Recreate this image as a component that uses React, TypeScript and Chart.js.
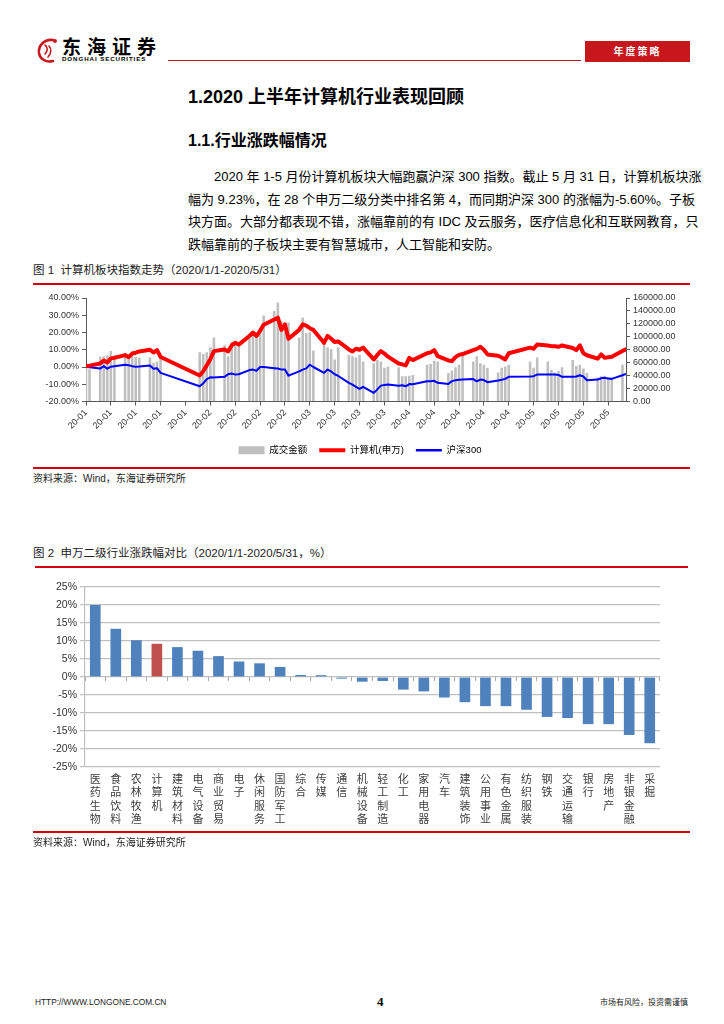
import React, { useEffect, useRef } from 'react';
import { Chart, registerables } from 'chart.js';

Chart.register(...registerables);

const FONT = "'Liberation Sans', 'Noto Sans CJK SC', sans-serif";

// ---------------- Figure 1 data ----------------
const TRADE_DATES = [
  '01-02', '01-03', '01-06', '01-07', '01-08', '01-09', '01-10', '01-13', '01-14', '01-15', '01-16', '01-17', '01-20', '01-21', '01-22', '01-23',
  '02-03', '02-04', '02-05', '02-06', '02-07', '02-10', '02-11', '02-12', '02-13', '02-14', '02-17', '02-18', '02-19', '02-20', '02-21', '02-24', '02-25', '02-26', '02-27', '02-28',
  '03-02', '03-03', '03-04', '03-05', '03-06', '03-09', '03-10', '03-11', '03-12', '03-13', '03-16', '03-17', '03-18', '03-19', '03-20', '03-23', '03-24', '03-25', '03-26', '03-27', '03-30', '03-31',
  '04-01', '04-02', '04-03', '04-07', '04-08', '04-09', '04-10', '04-13', '04-14', '04-15', '04-16', '04-17', '04-20', '04-21', '04-22', '04-23', '04-24', '04-27', '04-28', '04-29', '04-30',
  '05-06', '05-07', '05-08', '05-11', '05-12', '05-13', '05-14', '05-15', '05-18', '05-19', '05-20', '05-21', '05-22', '05-25', '05-26', '05-27', '05-28', '05-29',
  '06-01', '06-02',
];

const COMPUTER_PCT = [
  0.5, 0.8, 2.0, 3.8, 2.6, 5.0, 5.3, 6.9, 5.7, 7.8, 8.3, 9.0, 10.0, 8.4, 9.8, 5.8,
  -4.9, -2.5, 1.0, 4.5, 9.2, 10.2, 9.0, 12.5, 14.0, 13.0, 18.0, 20.0, 18.0, 21.0, 24.5, 27.5, 28.6, 21.5, 24.7, 16.4,
  21.5, 24.7, 24.0, 22.5, 21.5, 14.0, 18.0, 16.4, 14.5, 14.8, 10.2, 9.0, 10.6, 10.0, 11.2, 4.4, 7.0, 9.2, 7.8, 6.0, 2.0, 1.5,
  0.9, 5.3, 4.0, 8.0, 8.5, 9.8, 6.3, 3.8, 3.4, 5.7, 7.0, 7.5, 9.8, 10.5, 11.7, 10.0, 7.3, 6.5, 5.5, 4.4, 8.0,
  11.2, 10.6, 13.1, 12.5, 12.1, 12.0, 11.7, 12.5, 11.0, 9.8, 12.5, 8.0, 6.8, 4.8, 7.3, 5.3, 5.6, 5.9,
  9.3, 10.2,
];

const HS300_PCT = [
  0.0, -0.2, -0.9, 0.5, -1.0, 0.2, 0.5, 1.3, 1.0, 0.5, 0.2, 0.3, 0.9, -1.0, -0.7, -3.4,
  -11.2, -9.5, -7.0, -6.0, -6.1, -5.7, -4.2, -3.8, -4.4, -4.2, -1.8, -1.5, -2.2, 0.0, 0.0, -0.7, -0.9, -1.5, -1.5, -5.0,
  -2.5, -1.5, -0.8, 1.3, 0.0, -3.4, -1.5, -2.6, -4.2, -5.2, -9.2, -10.2, -11.5, -12.7, -11.5, -15.0, -13.0, -10.8, -10.5, -10.2, -10.8, -10.6,
  -11.2, -9.9, -10.0, -8.3, -8.3, -8.0, -9.2, -9.8, -8.2, -7.7, -7.4, -7.2, -7.0, -8.3, -7.3, -7.6, -8.8, -7.8, -7.4, -6.9, -5.7,
  -5.5, -5.3, -4.4, -4.4, -4.4, -4.4, -4.6, -5.7, -5.7, -5.5, -4.8, -5.5, -7.7, -7.3, -6.5, -6.3, -6.7, -6.9,
  -4.8, -4.0,
];

const TURNOVER = [
  55000, 50000, 69000, 70000, 71000, 78000, 72000, 70000, 73000, 70000, 69000, 68000, 68000, 60000, 62000, 71000,
  76000, 74000, 76000, 84000, 99000, 87000, 70000, 92000, 94000, 91000, 100000, 104000, 106000, 108000, 133000, 140000, 153000, 125000, 117000, 122000,
  99000, 130000, 106000, 107000, 79000, 89000, 84000, 81000, 65000, 84000, 72000, 70000, 68000, 72000, 62000, 59000, 64000, 62000, 52000, 54000, 53000, 39000,
  39000, 40000, 41000, 57000, 58000, 63000, 62000, 44000, 48000, 53000, 57000, 72000, 62000, 70000, 59000, 57000, 52000, 45000, 52000, 54000, 57000,
  62000, 52000, 68000, 62000, 49000, 45000, 47000, 53000, 64000, 55000, 57000, 51000, 44000, 37000, 39000, 40000, 38000, 38000,
  57000, null,
];

const X_TICK_LABELS = [
  '20-01', '20-01', '20-01', '20-01', '20-01',
  '20-02', '20-02', '20-02', '20-02',
  '20-03', '20-03', '20-03', '20-03',
  '20-04', '20-04', '20-04', '20-04', '20-04',
  '20-05', '20-05', '20-05', '20-05',
];

const SERIES_NAMES = ['成交金额', '计算机(申万)', '沪深300'];

// ---------------- Figure 2 data ----------------
const INDUSTRIES = [
  '医药生物', '食品饮料', '农林牧渔', '计算机', '建筑材料', '电气设备', '商业贸易', '电子', '休闲服务', '国防军工',
  '综合', '传媒', '通信', '机械设备', '轻工制造', '化工', '家用电器', '汽车', '建筑装饰', '公用事业',
  '有色金属', '纺织服装', '钢铁', '交通运输', '银行', '房地产', '非银金融', '采掘',
];

const INDUSTRY_PCT = [
  20.0, 13.4, 10.2, 9.23, 8.3, 7.3, 5.8, 4.3, 3.8, 2.8,
  0.55, 0.5, -0.45, -1.3, -1.1, -3.5, -4.0, -5.7, -7.0, -8.1,
  -8.1, -9.1, -11.1, -11.4, -13.1, -13.1, -16.1, -18.4,
];

const HIGHLIGHT = '计算机';

const dayOffset = (md: string) => {
  const [m, d] = md.split('-').map(Number);
  return Math.round((Date.UTC(2020, m - 1, d) - Date.UTC(2020, 0, 2)) / 86400000);
};

const RED = '#D7000F';

function Txt(props: { x: number; y: number; size: number; children: any; style?: any }) {
  const { x, y, size, children, style } = props;
  return (
    <div
      style={{
        position: 'absolute',
        left: x,
        top: y - size * 0.7,
        fontSize: size,
        lineHeight: `${size * 1.4}px`,
        whiteSpace: 'nowrap',
        ...style,
      }}
    >
      {children}
    </div>
  );
}

function JLine(props: { x: number; y: number; w: number; children: any; last?: boolean }) {
  const size = 13;
  return (
    <div
      style={{
        position: 'absolute',
        left: props.x,
        top: props.y - size * 0.7,
        width: props.w,
        fontSize: size,
        lineHeight: `${size * 1.4}px`,
        whiteSpace: 'nowrap',
        textAlign: props.last ? 'left' : 'justify',
        textAlignLast: props.last ? 'left' : 'justify',
      } as any}
    >
      {props.children}
    </div>
  );
}

function HLine(props: { x1: number; x2: number; y: number; color?: string; h?: number }) {
  return (
    <div
      style={{
        position: 'absolute',
        left: props.x1,
        top: props.y,
        width: props.x2 - props.x1,
        height: props.h ?? 1.5,
        background: props.color ?? RED,
      }}
    />
  );
}

export default function App() {
  const ref1 = useRef<HTMLCanvasElement>(null);
  const ref2 = useRef<HTMLCanvasElement>(null);

  useEffect(() => {
    Chart.defaults.font.family = FONT;
    const xs = TRADE_DATES.map(dayOffset);
    const xMax = dayOffset('06-02');

    const chart1 = new Chart(ref1.current as HTMLCanvasElement, {
      type: 'line',
      data: {
        datasets: [
          {
            type: 'bar',
            label: SERIES_NAMES[0],
            data: xs.map((x, i) => ({ x, y: TURNOVER[i] })),
            backgroundColor: '#BFBFBF',
            yAxisID: 'y1',
            order: 3,
            barPercentage: 0.85,
            categoryPercentage: 0.85,
          } as any,
          {
            type: 'line',
            label: SERIES_NAMES[1],
            data: xs.map((x, i) => ({ x, y: COMPUTER_PCT[i] })),
            borderColor: '#FF0000',
            backgroundColor: '#FF0000',
            borderWidth: 4,
            pointRadius: 0,
            tension: 0,
            borderJoinStyle: 'round',
            borderCapStyle: 'round',
            yAxisID: 'y',
            order: 1,
          },
          {
            type: 'line',
            label: SERIES_NAMES[2],
            data: xs.map((x, i) => ({ x, y: HS300_PCT[i] })),
            borderColor: '#0000FF',
            backgroundColor: '#0000FF',
            borderWidth: 2,
            pointRadius: 0,
            tension: 0,
            borderJoinStyle: 'round',
            yAxisID: 'y',
            order: 2,
          },
        ],
      },
      options: {
        animation: false,
        responsive: false,
        layout: { padding: { top: 10, left: 0, right: 0, bottom: 0 } },
        plugins: {
          tooltip: { enabled: false },
          legend: {
            position: 'bottom',
            labels: {
              usePointStyle: true,
              pointStyleWidth: 26,
              boxHeight: 8,
              padding: 12,
              font: { size: 9.5 },
              color: '#404040',
              generateLabels: () => [
                { text: SERIES_NAMES[0], fillStyle: '#BFBFBF', strokeStyle: '#BFBFBF', lineWidth: 0, pointStyle: 'rect', hidden: false, datasetIndex: 0 },
                { text: SERIES_NAMES[1], fillStyle: '#FF0000', strokeStyle: '#FF0000', lineWidth: 4, pointStyle: 'line', hidden: false, datasetIndex: 1 },
                { text: SERIES_NAMES[2], fillStyle: '#0000FF', strokeStyle: '#0000FF', lineWidth: 2.5, pointStyle: 'line', hidden: false, datasetIndex: 2 },
              ] as any,
            },
          },
        },
        scales: {
          x: {
            type: 'linear',
            min: 0,
            max: xMax,
            offset: false,
            grid: { display: true, drawOnChartArea: false, drawTicks: true, tickLength: 4, color: '#595959', offset: false },
            border: { display: true, color: '#595959' },
            ticks: {
              stepSize: 7,
              includeBounds: false,
              autoSkip: false,
              maxRotation: 45,
              minRotation: 45,
              padding: 2,
              font: { size: 9 },
              color: '#333333',
              callback: (_v: any, i: number) => X_TICK_LABELS[i] ?? '',
            },
            afterFit: (s: any) => {
              s.height = 32;
            },
          } as any,
          y: {
            position: 'left',
            min: -20,
            max: 40,
            grid: { drawOnChartArea: false, drawTicks: true, tickLength: 4, color: '#595959' },
            border: { display: true, color: '#595959' },
            ticks: {
              stepSize: 10,
              autoSkip: false,
              padding: 3,
              font: { size: 9 },
              color: '#333333',
              callback: (v: any) => Number(v).toFixed(2) + '%',
            },
            afterFit: (s: any) => {
              s.width = 66;
            },
          } as any,
          y1: {
            position: 'right',
            min: 0,
            max: 160000,
            grid: { drawOnChartArea: false, drawTicks: true, tickLength: 4, color: '#595959' },
            border: { display: true, color: '#595959' },
            ticks: {
              stepSize: 20000,
              autoSkip: false,
              padding: 3,
              font: { size: 9 },
              color: '#333333',
              callback: (v: any) => Number(v).toFixed(2),
            },
            afterFit: (s: any) => {
              s.width = 74;
            },
          } as any,
        },
      },
    });

    const chart2 = new Chart(ref2.current as HTMLCanvasElement, {
      type: 'bar',
      data: {
        labels: INDUSTRIES.map((n) => n.split('')),
        datasets: [
          {
            data: INDUSTRY_PCT,
            backgroundColor: INDUSTRIES.map((n) => (n === HIGHLIGHT ? '#C0504D' : '#4F81BD')),
            barPercentage: 1,
            categoryPercentage: 0.52,
          },
        ],
      },
      options: {
        animation: false,
        responsive: false,
        layout: { padding: { top: 15, right: 40, left: 0, bottom: 0 } },
        plugins: { legend: { display: false }, tooltip: { enabled: false } },
        scales: {
          x: {
            grid: { display: false },
            border: { display: false },
            ticks: {
              autoSkip: false,
              maxRotation: 0,
              minRotation: 0,
              padding: -2,
              font: { size: 11, lineHeight: 1.22 },
              color: '#404040',
            },
            afterFit: (s: any) => {
              s.height = 65;
            },
          } as any,
          xz: {
            axis: 'x',
            type: 'category',
            position: { y: 0 },
            ticks: { display: false },
            grid: { drawOnChartArea: false, drawTicks: true, tickLength: 4, color: '#A6A6A6', offset: true },
            border: { display: false },
          } as any,
          y: {
            min: -25,
            max: 25,
            grid: { color: '#BFBFBF', lineWidth: 1.2, drawTicks: true, tickLength: 5 },
            border: { display: true, color: '#BFBFBF', width: 1.2 },
            ticks: {
              stepSize: 5,
              autoSkip: false,
              padding: 3,
              font: { size: 10.5 },
              color: '#333333',
              callback: (v: any) => `${v}%`,
            },
            afterFit: (s: any) => {
              s.width = 65;
            },
          } as any,
        },
      },
    });

    return () => {
      chart1.destroy();
      chart2.destroy();
    };
  }, []);

  return (
    <div
      style={{
        position: 'absolute',
        left: 0,
        top: 0,
        width: 724,
        height: 1024,
        background: '#ffffff',
        overflow: 'hidden',
        fontFamily: FONT,
        color: '#000000',
      }}
    >
      {/* Header */}
      <svg style={{ position: 'absolute', left: 36, top: 37 }} width={24} height={27} viewBox="0 0 24 27">
        <path d="M17 3 C8 2 2 9 3 16 C4 22 10 26 17 24" stroke="#C8161D" strokeWidth={2.6} fill="none" strokeLinecap="round" />
        <path d="M9 8 C12 10 12 14 9 17 M13 9 C16 12 15 17 12 20" stroke="#C8161D" strokeWidth={1.6} fill="none" strokeLinecap="round" />
        <circle cx={19} cy={4} r={2} fill="#C8161D" />
      </svg>
      <Txt x={62} y={48} size={19} style={{ fontWeight: 700, letterSpacing: 6 }}>
        东海证券
      </Txt>
      <Txt x={62} y={59.5} size={6.2} style={{ fontWeight: 700, letterSpacing: 0.9 }}>
        DONGHAI SECURITIES
      </Txt>
      <HLine x1={168} x2={581} y={59.5} color="#B81C22" h={1} />
      <div
        style={{
          position: 'absolute',
          left: 585,
          top: 41,
          width: 105,
          height: 21,
          background: '#C8161D',
          color: '#ffffff',
          fontSize: 10,
          fontWeight: 700,
          lineHeight: '21px',
          textAlign: 'center',
          letterSpacing: 2,
        }}
      >
        年度策略
      </div>

      {/* Headings */}
      <Txt x={188} y={98} size={18} style={{ fontWeight: 700 }}>
        1.2020 上半年计算机行业表现回顾
      </Txt>
      <Txt x={188} y={141} size={16} style={{ fontWeight: 700 }}>
        1.1.行业涨跌幅情况
      </Txt>

      {/* Paragraph */}
      <JLine x={214} y={177} w={476}>
        2020 年 1-5 月份计算机板块大幅跑赢沪深 300 指数。截止 5 月 31 日，计算机板块涨
      </JLine>
      <JLine x={188} y={200} w={502}>
        幅为 9.23%，在 28 个申万二级分类中排名第 4，而同期沪深 300 的涨幅为-5.60%。子板
      </JLine>
      <JLine x={188} y={222} w={502}>
        块方面。大部分都表现不错，涨幅靠前的有 IDC 及云服务，医疗信息化和互联网教育，只
      </JLine>
      <JLine x={188} y={245} w={502} last>
        跌幅靠前的子板块主要有智慧城市，人工智能和安防。
      </JLine>

      {/* Figure 1 */}
      <Txt x={33} y={270} size={11.5} style={{ color: '#222' }}>
        图 1&nbsp;&nbsp;计算机板块指数走势（2020/1/1-2020/5/31）
      </Txt>
      <HLine x1={33} x2={690} y={283} />
      <canvas
        ref={ref1}
        width={680}
        height={177}
        style={{ position: 'absolute', left: 20, top: 288, width: 680, height: 177 }}
      />
      <HLine x1={33} x2={690} y={467} />
      <Txt x={33} y={479} size={10} style={{ color: '#222' }}>
        资料来源：Wind，东海证券研究所
      </Txt>

      {/* Figure 2 */}
      <Txt x={33} y={553} size={11.5} style={{ color: '#222' }}>
        图 2&nbsp;&nbsp;申万二级行业涨跌幅对比（2020/1/1-2020/5/31，%）
      </Txt>
      <HLine x1={35} x2={688} y={566} />
      <canvas
        ref={ref2}
        width={680}
        height={260}
        style={{ position: 'absolute', left: 20, top: 572, width: 680, height: 260 }}
      />
      <HLine x1={33} x2={690} y={831} />
      <Txt x={33} y={843} size={10} style={{ color: '#222' }}>
        资料来源：Wind，东海证券研究所
      </Txt>

      {/* Footer */}
      <Txt x={35} y={1003} size={8.3} style={{ color: '#222' }}>
        HTTP://WWW.LONGONE.COM.CN
      </Txt>
      <Txt x={377} y={1002} size={13} style={{ fontWeight: 700, fontFamily: "'Liberation Serif', serif" }}>
        4
      </Txt>
      <Txt x={600} y={1003} size={8} style={{ color: '#222' }}>
        市场有风险，投资需谨慎
      </Txt>
    </div>
  );
}
